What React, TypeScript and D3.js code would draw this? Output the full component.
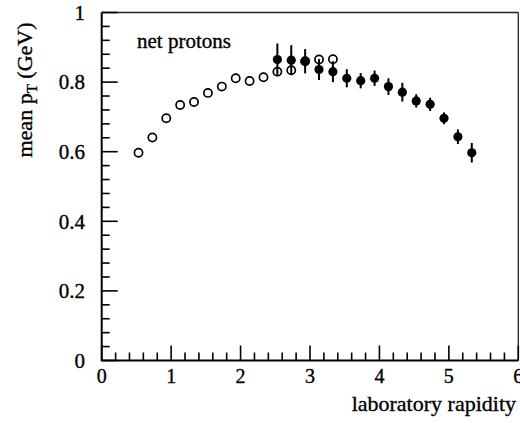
import React from "react";
import * as d3 from "d3";

const openX = [0.53, 0.73, 0.93, 1.13, 1.33, 1.53, 1.73, 1.93, 2.13, 2.33, 2.53, 2.73, 2.93, 3.13, 3.33];
const openY = [0.597, 0.641, 0.696, 0.734, 0.743, 0.769, 0.787, 0.811, 0.803, 0.814, 0.83, 0.834, 0.86, 0.865, 0.866];
const filledX = [2.53, 2.73, 2.93, 3.13, 3.33, 3.53, 3.73, 3.93, 4.13, 4.33, 4.53, 4.73, 4.93, 5.13, 5.33];
const filledY = [0.865, 0.863, 0.86, 0.836, 0.83, 0.811, 0.804, 0.811, 0.787, 0.771, 0.746, 0.736, 0.696, 0.643, 0.597];
const filledErr = [0.046, 0.043, 0.035, 0.03, 0.03, 0.026, 0.022, 0.022, 0.024, 0.027, 0.019, 0.019, 0.017, 0.021, 0.028];
const xTickLabels = [0, 1, 2, 3, 4, 5, 6];
const yTickLabels = [0, 0.2, 0.4, 0.6, 0.8, 1];

const W = 520, H = 423;
const L = 101.7, R = 518.3, T = 12.5, B = 360.5;
const FONT = "'Liberation Serif', 'DejaVu Serif', serif";
const TXT = { fontFamily: FONT, fill: "#000", stroke: "#000", strokeWidth: 0.35 };

export default function App() {
  const x = d3.scaleLinear().domain([0, 6]).range([L, R]);
  const y = d3.scaleLinear().domain([0, 1]).range([B, T]);
  const xMinor = d3.range(0, 6.001, 0.2);
  const yMinor = d3.range(0, 1.001, 0.04);
  const fmtY = (v: number) => (v === 0 || v === 1 ? String(v) : d3.format(".1f")(v));

  return (
    <svg width={W} height={H} style={{ position: "absolute", left: 0, top: 0, background: "#fff" }}>
      <rect x={0} y={0} width={W} height={H} fill="#fff" />
      {/* frame */}
      <line x1={L} x2={R} y1={T} y2={T} stroke="#222" strokeWidth={1.3} />
      <line x1={R} x2={R} y1={T} y2={B} stroke="#222" strokeWidth={1.3} />
      <line x1={L} x2={L} y1={T} y2={B + 0.8} stroke="#000" strokeWidth={2} />
      <line x1={L} x2={R} y1={B} y2={B} stroke="#000" strokeWidth={2} />
      {/* x ticks */}
      {xMinor.map((v, i) => {
        const major = Math.abs(v - Math.round(v)) < 1e-6;
        return (
          <line key={"xt" + i} x1={x(v)} x2={x(v)} y1={B} y2={B - (major ? 15 : 8)} stroke="#000" strokeWidth={1.6} />
        );
      })}
      {/* y ticks */}
      {yMinor.map((v, i) => {
        const major = Math.abs(v * 5 - Math.round(v * 5)) < 1e-6;
        return (
          <line key={"yt" + i} x1={L} x2={L + (major ? 16 : 8)} y1={y(v)} y2={y(v)} stroke="#000" strokeWidth={1.6} />
        );
      })}
      {/* x tick labels */}
      {xTickLabels.map((v) => (
        <text key={"xl" + v} x={x(v)} y={383} textAnchor="middle" fontSize={20} {...TXT}>
          {v}
        </text>
      ))}
      {/* y tick labels */}
      {yTickLabels.map((v) => (
        <text key={"yl" + v} x={85} y={y(v)} dy="0.35em" textAnchor="end" fontSize={21} {...TXT}>
          {fmtY(v)}
        </text>
      ))}
      {/* axis titles */}
      <text x={516} y={411} textAnchor="end" fontSize={22} {...TXT}>
        laboratory rapidity
      </text>
      <text transform={`translate(32, 90) rotate(-90)`} textAnchor="middle" fontSize={22} {...TXT}>
        mean p<tspan fontSize={15} dy={5}>T</tspan>
        <tspan dy={-5}> (GeV)</tspan>
      </text>
      <text x={137} y={48} fontSize={21} {...TXT}>
        net protons
      </text>
      {/* open circles */}
      {openX.map((v, i) => (
        <circle key={"o" + i} cx={x(v)} cy={y(openY[i])} r={4.1} fill="#fff" stroke="#000" strokeWidth={1.7} />
      ))}
      {/* filled with error bars */}
      {filledX.map((v, i) => (
        <g key={"f" + i}>
          <line
            x1={x(v)}
            x2={x(v)}
            y1={y(filledY[i] - filledErr[i])}
            y2={y(filledY[i] + filledErr[i])}
            stroke="#000"
            strokeWidth={2}
          />
          <circle cx={x(v)} cy={y(filledY[i])} r={4.6} fill="#000" />
        </g>
      ))}
    </svg>
  );
}
